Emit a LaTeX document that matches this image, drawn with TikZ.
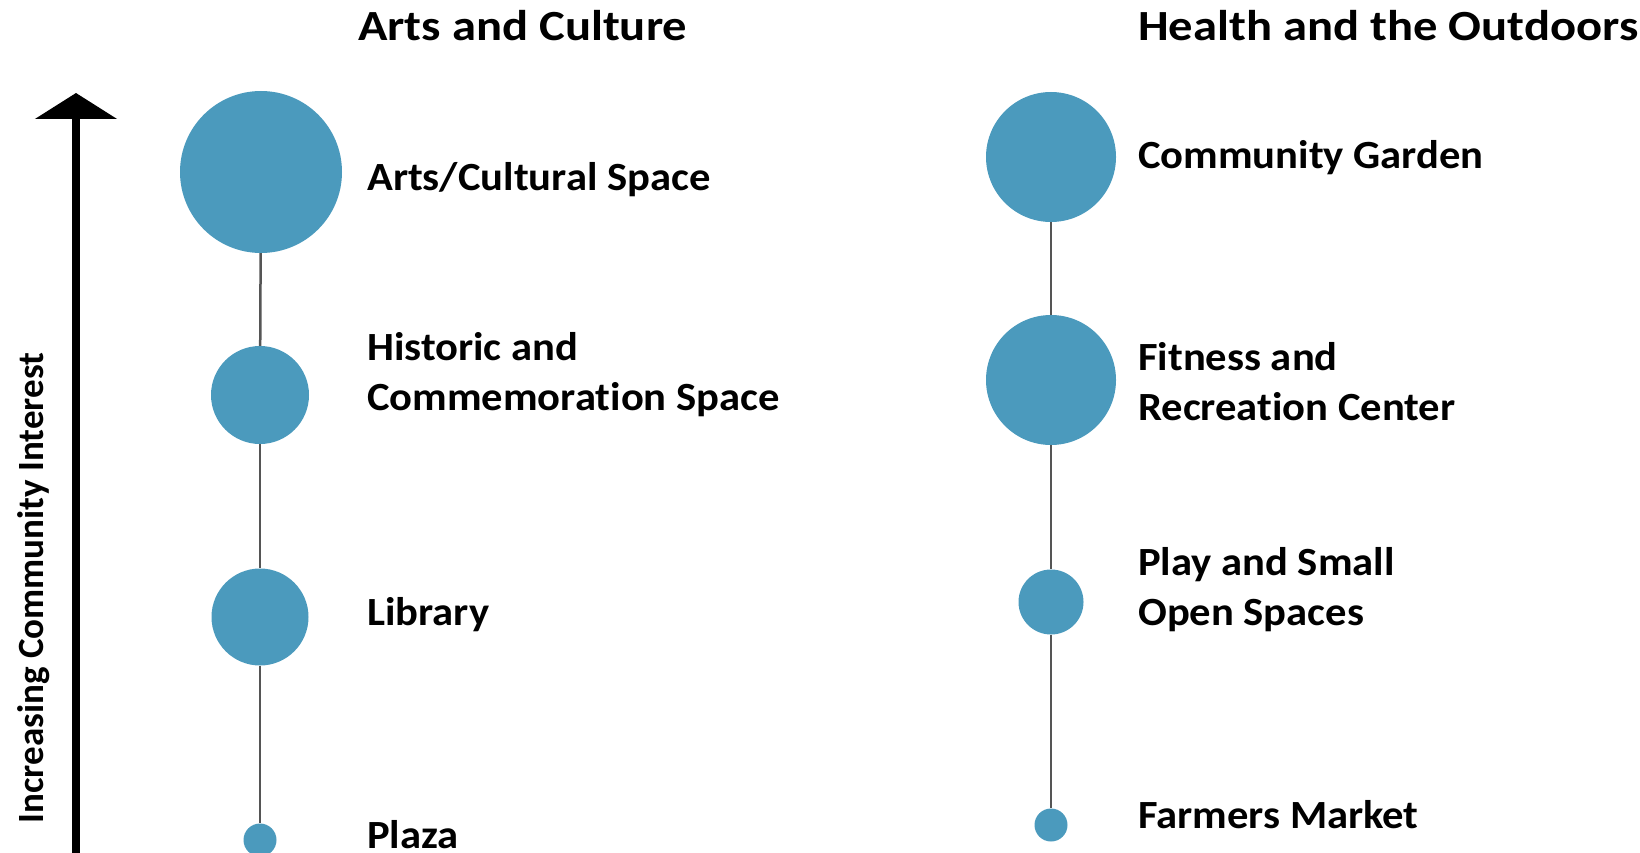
\documentclass[tikz,border=0pt]{standalone}
\usepackage{fontspec}
\setmainfont[Ligatures=NoCommon]{Carlito}
\newfontfamily\headfont[Ligatures=NoCommon, FakeStretch=1.13]{Carlito}
\newfontfamily\itemfont[Ligatures=NoCommon, FakeStretch=1.065]{Carlito}
\usetikzlibrary{arrows.meta,positioning}

\definecolor{dotblue}{RGB}{75,154,189}
\definecolor{stemgrey}{RGB}{85,85,85}

\begin{document}
\begin{tikzpicture}[
    x=1pt, y=-1pt,
    dot/.style={circle, fill=dotblue, inner sep=0pt, minimum size=#1},
    stem/.style={draw=stemgrey, line width=2.5pt},
    heading/.style={anchor=base west, inner sep=0pt, font=\headfont\fontsize{43}{50}\selectfont\bfseries},
    item/.style={anchor=base west, inner sep=0pt, align=left, font=\itemfont\fontsize{40}{50}\selectfont\bfseries},
]
\useasboundingbox (0,0) rectangle (1640,853);

% axis
\coordinate (axisbot) at (76,860);
\coordinate (axistop) at (76,93);
\draw[line width=8pt, -{Triangle[width=81pt,length=26pt]}] (axisbot) -- (axistop);
\node[rotate=90, anchor=base, inner sep=0pt, font=\fontsize{37}{50}\selectfont\bfseries]
    (axislabel) at (43,588) {Increasing Community Interest};

% left column
\node[heading] (arts) at (358,41) {Arts and Culture};
\node[dot=162pt] (artsdot) at (261,172) {};
\node[dot=98pt] (histdot) at (260,395) {};
\node[dot=97pt] (libdot) at (260,617) {};
\node[dot=33pt] (plazadot) at (260,840) {};
\draw[stem] (artsdot) -- (histdot);
\draw[stem] (histdot) -- (libdot);
\draw[stem] (libdot) -- (plazadot);
\node[item] (artsspace) at (367,191) {Arts/Cultural Space};
\node[item] (hist) at (367,410) {Historic and\\Commemoration Space};
\node[item] (lib) at (367,625) {Library};
\node[item] (plaza) at (367,848) {Plaza};

% right column
\node[heading] (health) at (1138,41) {Health and the Outdoors};
\node[dot=130pt] (gardendot) at (1051,157) {};
\node[dot=130pt] (fitdot) at (1051,380) {};
\node[dot=65pt] (playdot) at (1051,602) {};
\node[dot=33pt] (farmdot) at (1051,825) {};
\draw[stem] (gardendot) -- (fitdot);
\draw[stem] (fitdot) -- (playdot);
\draw[stem] (playdot) -- (farmdot);
\node[item] (garden) at (1138,169) {Community Garden};
\node[item] (fit) at (1138,420) {Fitness and\\Recreation Center};
\node[item] (play) at (1138,625) {Play and Small\\Open Spaces};
\node[item] (farm) at (1138,828) {Farmers Market};
\end{tikzpicture}
\end{document}
